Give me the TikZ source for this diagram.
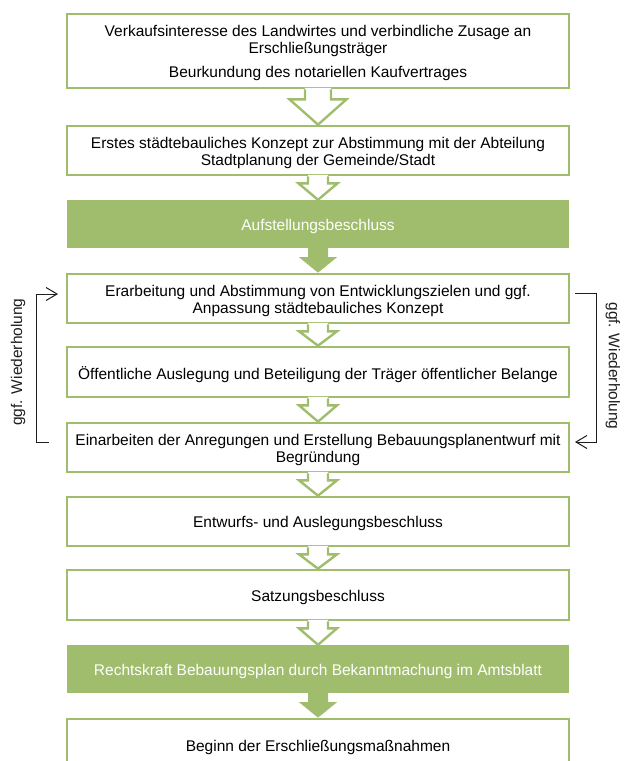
\documentclass[tikz,border=0pt]{standalone}
\usepackage{fontspec}
\setmainfont{Liberation Sans}
\usetikzlibrary{calc,arrows.meta}
\definecolor{grn}{RGB}{159,189,108}
\definecolor{loopcol}{RGB}{30,30,30}
\newcommand\tx[1]{\raisebox{-3pt}[\height][\depth]{\begin{tabular}{@{}c@{}}#1\end{tabular}}}
\newcommand\openarr[5]{%
  \fill[white] ($(#1.south)+(-#3,-1.6)$) -- ($(#1.south)+(-#3,#4)$) -- ($(#1.south)+(-#5,#4)$) -- (#2.north)
     -- ($(#1.south)+(#5,#4)$) -- ($(#1.south)+(#3,#4)$) -- ($(#1.south)+(#3,-1.6)$) -- cycle;
  \draw[arrline] ($(#1.south)+(-#3,0)$) -- ($(#1.south)+(-#3,#4)$) -- ($(#1.south)+(-#5,#4)$) -- (#2.north)
     -- ($(#1.south)+(#5,#4)$) -- ($(#1.south)+(#3,#4)$) -- ($(#1.south)+(#3,0)$);}
\newcommand\solidarr[5]{%
  \fill[grn] ($(#1.south)+(-#3,-1)$) -- ($(#1.south)+(-#3,#4)$) -- ($(#1.south)+(-#5,#4)$) -- (#2.north)
     -- ($(#1.south)+(#5,#4)$) -- ($(#1.south)+(#3,#4)$) -- ($(#1.south)+(#3,-1)$) -- cycle;}
\tikzset{
  box/.style={draw=grn, line width=2.7pt, fill=white, minimum width=502pt,
     inner sep=0pt, font=\fontsize{15.5}{16.5}\selectfont, text=black},
  gbox/.style={fill=grn, minimum width=502pt, inner sep=0pt,
     font=\fontsize{15.5}{16.5}\selectfont, text=white},
  arrline/.style={draw=grn, line width=2.4pt, line join=miter},
  loopline/.style={draw=loopcol, line width=1pt, -{Straight Barb[length=11pt,width=13pt,line width=1pt]}},
  looplabel/.style={font=\fontsize{15.5}{16.5}\selectfont, text=loopcol}
}
\begin{document}
\begin{tikzpicture}[x=1pt,y=-1pt]
\useasboundingbox (0,0) rectangle (625,761);
\clip (0,0) rectangle (625,761);
\node[box, minimum height=74pt] (b1) at (318,51) {\tx{Verkaufsinteresse des Landwirtes und verbindliche Zusage an\\Erschließungsträger\\[8pt]Beurkundung des notariellen Kaufvertrages}};
\node[box, minimum height=49pt] (b2) at (318,150.5) {\tx{Erstes städtebauliches Konzept zur Abstimmung mit der Abteilung\\Stadtplanung der Gemeinde/Stadt}};
\node[gbox, minimum height=48pt] (b3) at (318,224) {\tx{Aufstellungsbeschluss}};
\node[box, minimum height=49pt] (b4) at (318,298.5) {\tx{Erarbeitung und Abstimmung von Entwicklungszielen und ggf.\\Anpassung städtebauliches Konzept}};
\node[box, minimum height=50pt] (b5) at (318,372) {\tx{Öffentliche Auslegung und Beteiligung der Träger öffentlicher Belange}};
\node[box, minimum height=49pt] (b6) at (318,447.5) {\tx{Einarbeiten der Anregungen und Erstellung Bebauungsplanentwurf mit\\Begründung}};
\node[box, minimum height=49pt] (b7) at (318,521.5) {\tx{Entwurfs- und Auslegungsbeschluss}};
\node[box, minimum height=50pt] (b8) at (318,595) {\tx{Satzungsbeschluss}};
\node[gbox, minimum height=48pt] (b9) at (318,669) {\tx{Rechtskraft Bebauungsplan durch Bekanntmachung im Amtsblatt}};
\node[box, minimum height=52pt] (b10) at (318,745) {\tx{Beginn der Erschließungsmaßnahmen}};
\openarr{b1}{b2}{13}{10}{28.5}
\openarr{b2}{b3}{10}{7}{19.5}
\solidarr{b3}{b4}{10}{9}{19}
\openarr{b4}{b5}{10}{7}{19}
\openarr{b5}{b6}{10}{7}{19}
\openarr{b6}{b7}{10}{7}{19}
\openarr{b7}{b8}{10}{7}{19}
\openarr{b8}{b9}{10}{7}{19}
\solidarr{b9}{b10}{10}{9}{19}
% loops
\coordinate (lb) at (49,442);
\coordinate (lc) at (36,294);
\coordinate (lt) at (58,294);
\draw[loopline] (lb) -| (lc) -- (lt);
\coordinate (rt) at (575,293);
\coordinate (rc) at (596,442);
\coordinate (rb) at (575,442);
\draw[loopline] (rt) -| (rc) -- (rb);
\node[looplabel, rotate=90] (ll) at (18,362) {ggf. Wiederholung};
\node[looplabel, rotate=-90] (rl) at (613,366) {ggf. Wiederholung};
\end{tikzpicture}
\end{document}
